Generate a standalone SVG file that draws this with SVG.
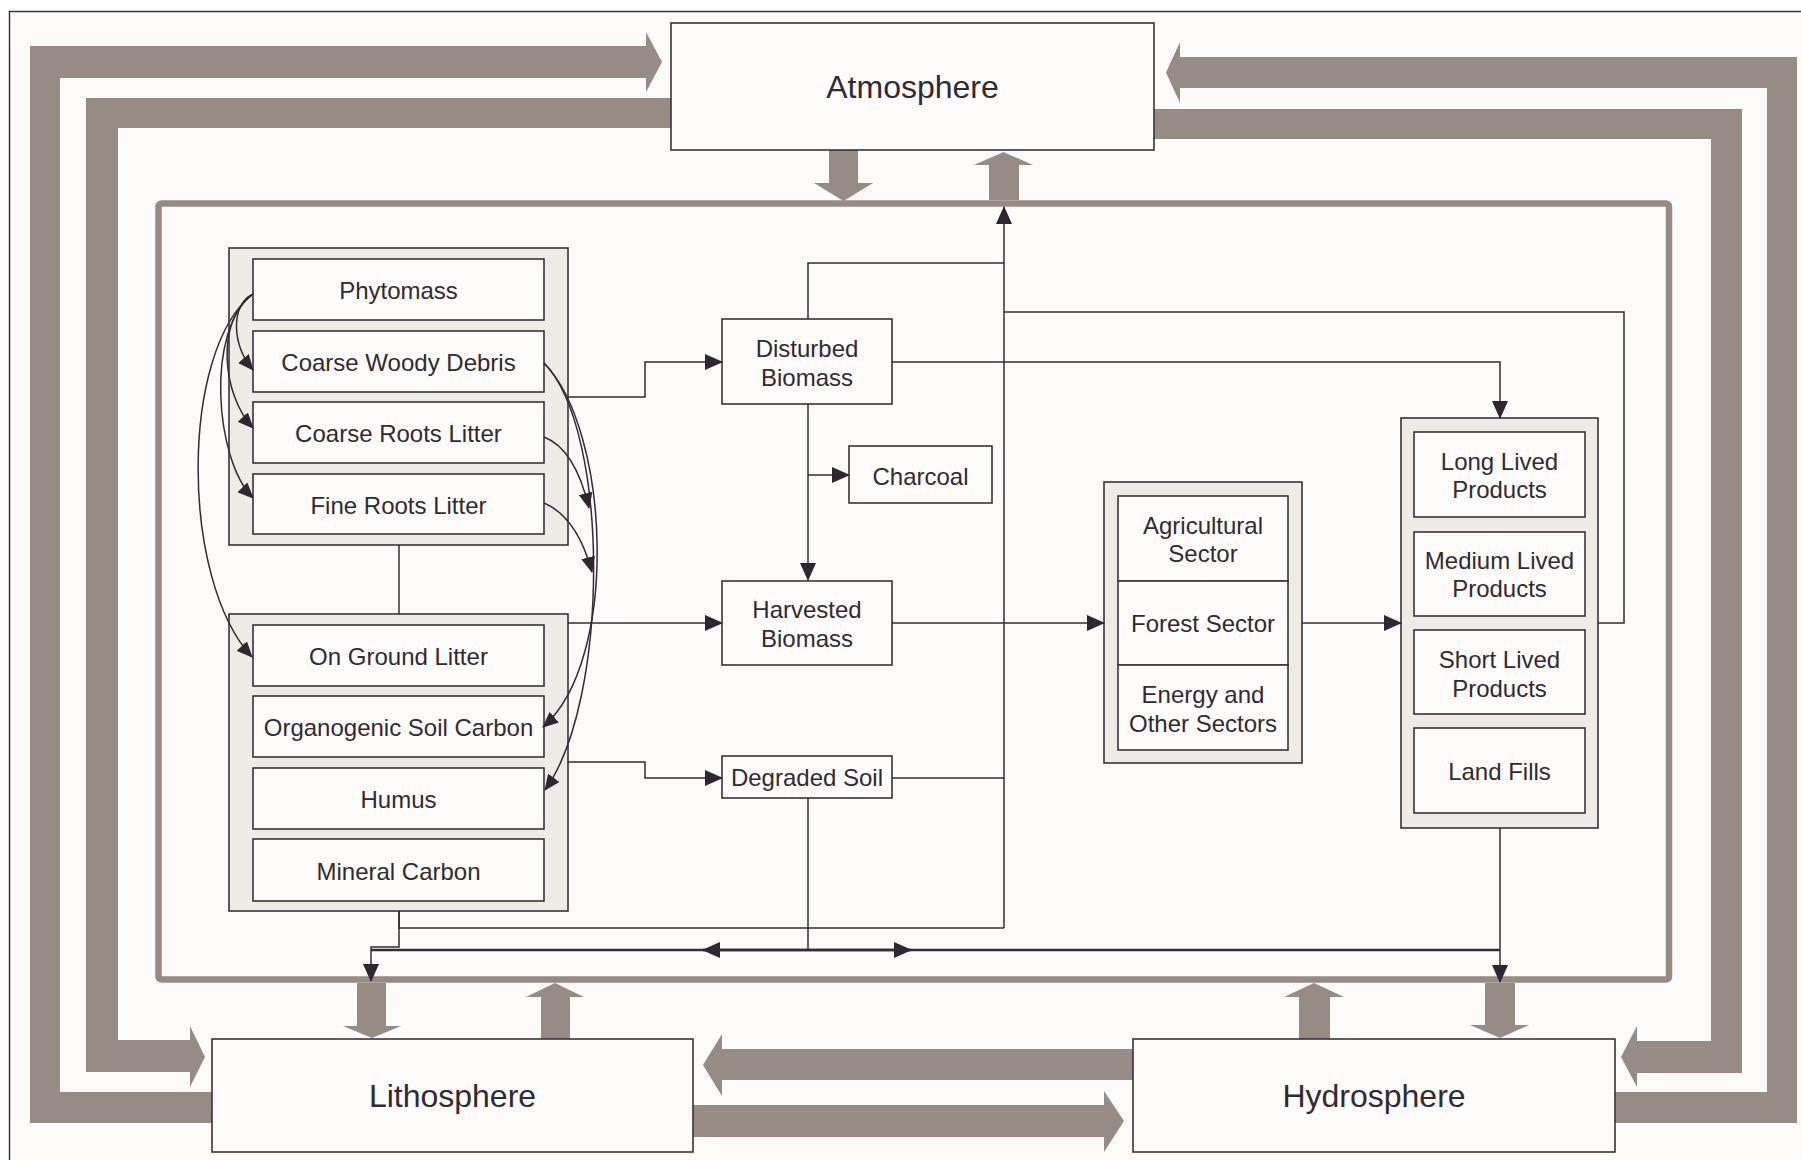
<svg xmlns="http://www.w3.org/2000/svg" width="1801" height="1160" viewBox="0 0 1801 1160">
<defs>
<style>
.band{fill:#968b85;stroke:none}
.frame{fill:none;stroke:#968b85;stroke-width:6.5}
.sphere{fill:#fdfcfb;stroke:#3a3238;stroke-width:1.6}
.grp{fill:#efece8;stroke:#3a3238;stroke-width:1.6}
.box{fill:#fdfcfb;stroke:#3a3238;stroke-width:1.6}
.ln{fill:none;stroke:#332b35;stroke-width:1.5}
.thick{fill:none;stroke:#332b35;stroke-width:2.4}
.arr{marker-end:url(#ah)}
.arrs{marker-end:url(#ahs)}
text{font-family:"Liberation Sans",Arial,Helvetica,sans-serif;fill:#312a33;text-anchor:middle}
.lbl{font-size:24px}
.big{font-size:32px}
</style>
<marker id="ah" viewBox="0 0 18 16" markerWidth="18" markerHeight="16" refX="17" refY="8" orient="auto" markerUnits="userSpaceOnUse">
<path d="M0,0 L18,8 L0,16 z" fill="#2e2630"/>
</marker>
<marker id="ahs" viewBox="0 0 16 14" markerWidth="16" markerHeight="14" refX="15" refY="7" orient="auto" markerUnits="userSpaceOnUse">
<path d="M0,0 L16,7 L0,14 z" fill="#2e2630"/>
</marker>
</defs>
<rect x="0" y="0" width="1801" height="1160" fill="#ffffff"/>
<rect x="9.5" y="11.5" width="1800" height="1160" fill="#fcfbf9" stroke="#3c343c" stroke-width="1.5"/>

<g id="flows">
<path class="band" d="M212,1123 L30,1123 L30,46 L646,46 L646,32 L662,62 L646,92 L646,78 L60,78 L60,1092 L212,1092 z"/>
<path class="band" d="M671,98 L86,98 L86,1072 L190,1072 L190,1087 L205,1057 L190,1026 L190,1040 L118,1040 L118,128 L671,128 z"/>
<path class="band" d="M1615,1092 L1767,1092 L1767,88 L1180,88 L1180,103 L1166,72.5 L1180,42 L1180,57 L1797,57 L1797,1123 L1615,1123 z"/>
<path class="band" d="M1154,109 L1742,109 L1742,1073 L1637,1073 L1637,1087 L1621,1057 L1637,1026 L1637,1041 L1711,1041 L1711,139 L1154,139 z"/>
<path class="band" d="M1133,1049 L722,1049 L722,1034 L703,1065 L722,1096 L722,1080 L1133,1080 z"/>
<path class="band" d="M693,1105 L1104,1105 L1104,1091 L1124,1121 L1104,1152 L1104,1137 L693,1137 z"/>
<path class="band" d="M829,150 L858,150 L858,183 L873,183 L843.5,201 L814,183 L829,183 z"/>
<path class="band" d="M989,200 L989,165 L974,165 L1003.5,152 L1033,165 L1019,165 L1019,200 z"/>
<path class="band" d="M357,983 L386,983 L386,1026 L401,1026 L372,1038 L343,1026 L357,1026 z"/>
<path class="band" d="M541,1039 L541,997 L526,997 L555,983 L584,997 L570,997 L570,1039 z"/>
<path class="band" d="M1299,1039 L1299,997 L1284,997 L1314,983 L1344,997 L1330,997 L1330,1039 z"/>
<path class="band" d="M1485,983 L1515,983 L1515,1025 L1529,1025 L1500,1038 L1470,1025 L1485,1025 z"/>
</g>

<g id="atmosphere">
<rect class="sphere" x="671" y="23" width="483" height="127"/>
<text class="big" x="912.5" y="98">Atmosphere</text>
</g>
<g id="lithosphere">
<rect class="sphere" x="212" y="1039" width="481" height="113"/>
<text class="big" x="452.5" y="1107">Lithosphere</text>
</g>
<g id="hydrosphere">
<rect class="sphere" x="1133" y="1039" width="482" height="113"/>
<text class="big" x="1374" y="1107">Hydrosphere</text>
</g>

<g id="ecosystem-frame">
<rect class="frame" x="158.5" y="203.5" width="1510.5" height="776" rx="3"/>
</g>

<g id="biomass-pools">
<rect class="grp" x="229" y="248" width="339" height="297"/>
<g id="phytomass"><rect class="box" x="253" y="259" width="291" height="61"/><text class="lbl" x="398.5" y="299">Phytomass</text></g>
<g id="coarse-woody-debris"><rect class="box" x="253" y="331" width="291" height="61"/><text class="lbl" x="398.5" y="371">Coarse Woody Debris</text></g>
<g id="coarse-roots-litter"><rect class="box" x="253" y="402" width="291" height="61"/><text class="lbl" x="398.5" y="442">Coarse Roots Litter</text></g>
<g id="fine-roots-litter"><rect class="box" x="253" y="474" width="291" height="60"/><text class="lbl" x="398.5" y="513.5">Fine Roots Litter</text></g>
</g>

<g id="soil-pools">
<rect class="grp" x="229" y="614" width="339" height="297"/>
<g id="on-ground-litter"><rect class="box" x="253" y="625" width="291" height="61"/><text class="lbl" x="398.5" y="665">On Ground Litter</text></g>
<g id="organogenic-soil-carbon"><rect class="box" x="253" y="696" width="291" height="61"/><text class="lbl" x="398.5" y="736">Organogenic Soil Carbon</text></g>
<g id="humus"><rect class="box" x="253" y="768" width="291" height="61"/><text class="lbl" x="398.5" y="808">Humus</text></g>
<g id="mineral-carbon"><rect class="box" x="253" y="839" width="291" height="62"/><text class="lbl" x="398.5" y="879.5">Mineral Carbon</text></g>
</g>

<g id="disturbed-biomass">
<rect class="box" x="722" y="319" width="170" height="85"/>
<text class="lbl" x="807" y="357">Disturbed</text><text class="lbl" x="807" y="386">Biomass</text>
</g>
<g id="charcoal">
<rect class="box" x="849" y="446" width="143" height="57"/>
<text class="lbl" x="920.5" y="485">Charcoal</text>
</g>
<g id="harvested-biomass">
<rect class="box" x="722" y="581" width="170" height="84"/>
<text class="lbl" x="807" y="618">Harvested</text><text class="lbl" x="807" y="647">Biomass</text>
</g>
<g id="degraded-soil">
<rect class="box" x="722" y="756" width="170" height="42"/>
<text class="lbl" x="807" y="786">Degraded Soil</text>
</g>

<g id="sectors">
<rect class="grp" x="1104" y="482" width="198" height="281"/>
<g id="agricultural-sector"><rect class="box" x="1118" y="496" width="170" height="85"/><text class="lbl" x="1203" y="534">Agricultural</text><text class="lbl" x="1203" y="562">Sector</text></g>
<g id="forest-sector"><rect class="box" x="1118" y="581" width="170" height="84"/><text class="lbl" x="1203" y="632">Forest Sector</text></g>
<g id="energy-sectors"><rect class="box" x="1118" y="665" width="170" height="85"/><text class="lbl" x="1203" y="703">Energy and</text><text class="lbl" x="1203" y="732">Other Sectors</text></g>
</g>

<g id="products">
<rect class="grp" x="1401" y="418" width="197" height="410"/>
<g id="long-lived"><rect class="box" x="1414" y="432" width="171" height="85"/><text class="lbl" x="1499.5" y="470">Long Lived</text><text class="lbl" x="1499.5" y="498">Products</text></g>
<g id="medium-lived"><rect class="box" x="1414" y="532" width="171" height="84"/><text class="lbl" x="1499.5" y="569">Medium Lived</text><text class="lbl" x="1499.5" y="597">Products</text></g>
<g id="short-lived"><rect class="box" x="1414" y="630" width="171" height="84"/><text class="lbl" x="1499.5" y="668">Short Lived</text><text class="lbl" x="1499.5" y="697">Products</text></g>
<g id="land-fills"><rect class="box" x="1414" y="728" width="171" height="85"/><text class="lbl" x="1499.5" y="780">Land Fills</text></g>
</g>

<g id="connectors">
<path class="ln arr" d="M568,397 H645 V362 H722"/>
<path class="ln" d="M808,319 V263 H1004"/>
<path class="ln arr" d="M892,362 H1500 V418"/>
<path class="ln arr" d="M808,404 V580"/>
<path class="ln arr" d="M808,475 H849"/>
<path class="ln arr" d="M568,623 H722"/>
<path class="ln arr" d="M892,623 H1104"/>
<path class="ln arr" d="M1302,623 H1401"/>
<path class="ln" d="M1598,623 H1624 V312 H1004"/>
<path class="ln arr" d="M568,762 H645 V778 H722"/>
<path class="ln" d="M892,778 H1004"/>
<path class="ln arr" d="M1004,928 V207"/>
<path class="ln" d="M399,545 V614"/>
<path class="ln" d="M399,911 V928 H1004"/>
<path class="ln arr" d="M399,911 V947 H371 V981"/>
<path class="ln" d="M808,798 V950"/>
<path class="thick" d="M371,950 H1500"/>
<path class="thick arr" d="M808,950 H703"/>
<path class="thick arr" d="M808,950 H911"/>
<path class="ln arr" d="M1500,828 V982"/>
<path class="ln arrs" d="M253,294 C230,305 232,345 253,370"/>
<path class="ln arrs" d="M253,294 C215,320 222,395 253,428"/>
<path class="ln arrs" d="M253,294 C205,330 215,460 253,498"/>
<path class="ln arrs" d="M253,294 C180,350 180,580 252,657"/>
<path class="ln arrs" d="M544,363 C610,430 620,660 543,727"/>
<path class="ln arrs" d="M544,363 C610,430 610,700 545,790"/>
<path class="ln arrs" d="M544,437 C565,445 580,470 589,508"/>
<path class="ln arrs" d="M544,503 C565,512 582,535 592,572"/>
</g>
</svg>
